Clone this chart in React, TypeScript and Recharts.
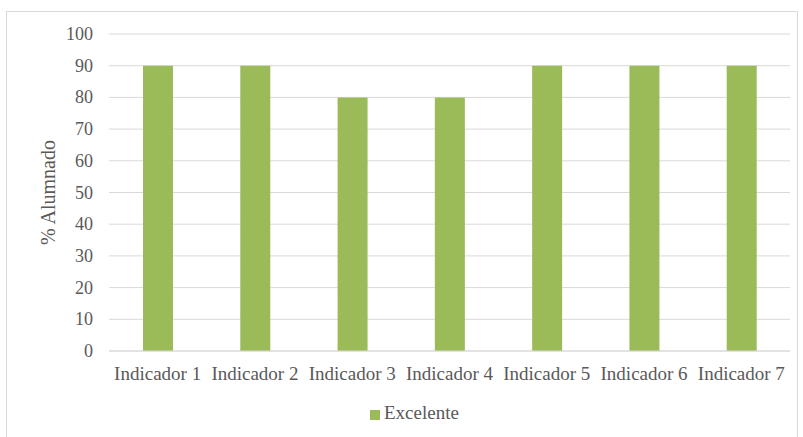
import React from 'react'
import { BarChart, Bar, XAxis, YAxis, CartesianGrid, Legend } from 'recharts'

const categories = ['Indicador 1', 'Indicador 2', 'Indicador 3', 'Indicador 4', 'Indicador 5', 'Indicador 6', 'Indicador 7']
const excelente = [90, 90, 80, 80, 90, 90, 90]
const yTicks = [0, 10, 20, 30, 40, 50, 60, 70, 80, 90, 100]

const data = categories.map((name, i) => ({ name, excelente: excelente[i] }))

const font = '"Liberation Serif", "Times New Roman", serif'
const textColor = '#595959'

const XTick = (props: any) => {
  const { x, y, payload } = props
  return (
    <text x={x} y={y + 11} textAnchor="middle" fill={textColor} style={{ fontSize: 19, fontFamily: font }}>
      {payload.value}
    </text>
  )
}

const YTick = (props: any) => {
  const { x, y, payload } = props
  return (
    <text x={x} y={y + 6} textAnchor="end" fill={textColor} style={{ fontSize: 18, fontFamily: font }}>
      {payload.value}
    </text>
  )
}

export default function App() {
  return (
    <div style={{ position: 'absolute', left: 0, top: 0, width: 803, height: 437, background: '#fff', overflow: 'hidden', fontFamily: font }}>
      <div style={{ position: 'absolute', left: 6, top: 11, width: 790, height: 440, border: '1px solid #d9d9d9' }} />
      <BarChart
        width={803}
        height={437}
        data={data}
        margin={{ top: 34, right: 13, left: 0, bottom: 9 }}
        style={{ position: 'absolute', left: 0, top: 0 }}
      >
        <CartesianGrid vertical={false} stroke="#d9d9d9" />
        <XAxis
          dataKey="name"
          tick={<XTick />}
          tickLine={false}
          axisLine={{ stroke: '#d9d9d9' }}
          tickMargin={12}
          interval={0}
          height={51}
        />
        <YAxis
          width={109}
          domain={[0, 100]}
          ticks={yTicks}
          tick={<YTick />}
          tickLine={false}
          axisLine={false}
          tickMargin={10}
          label={{ value: '% Alumnado', angle: -90, position: 'insideLeft', offset: 48, style: { fontSize: 20, fill: textColor, textAnchor: 'middle', fontFamily: font } }}
        />
        <Legend
          verticalAlign="bottom"
          height={26}
          iconType="square"
          iconSize={10}
          wrapperStyle={{ fontSize: 19, fontFamily: font, left: 370, width: 'auto' }}
          formatter={(v) => <span style={{ color: textColor, fontFamily: font }}>{v}</span>}
        />
        <Bar dataKey="excelente" name="Excelente" fill="#9bbb59" barSize={30} isAnimationActive={false} />
      </BarChart>
    </div>
  )
}
